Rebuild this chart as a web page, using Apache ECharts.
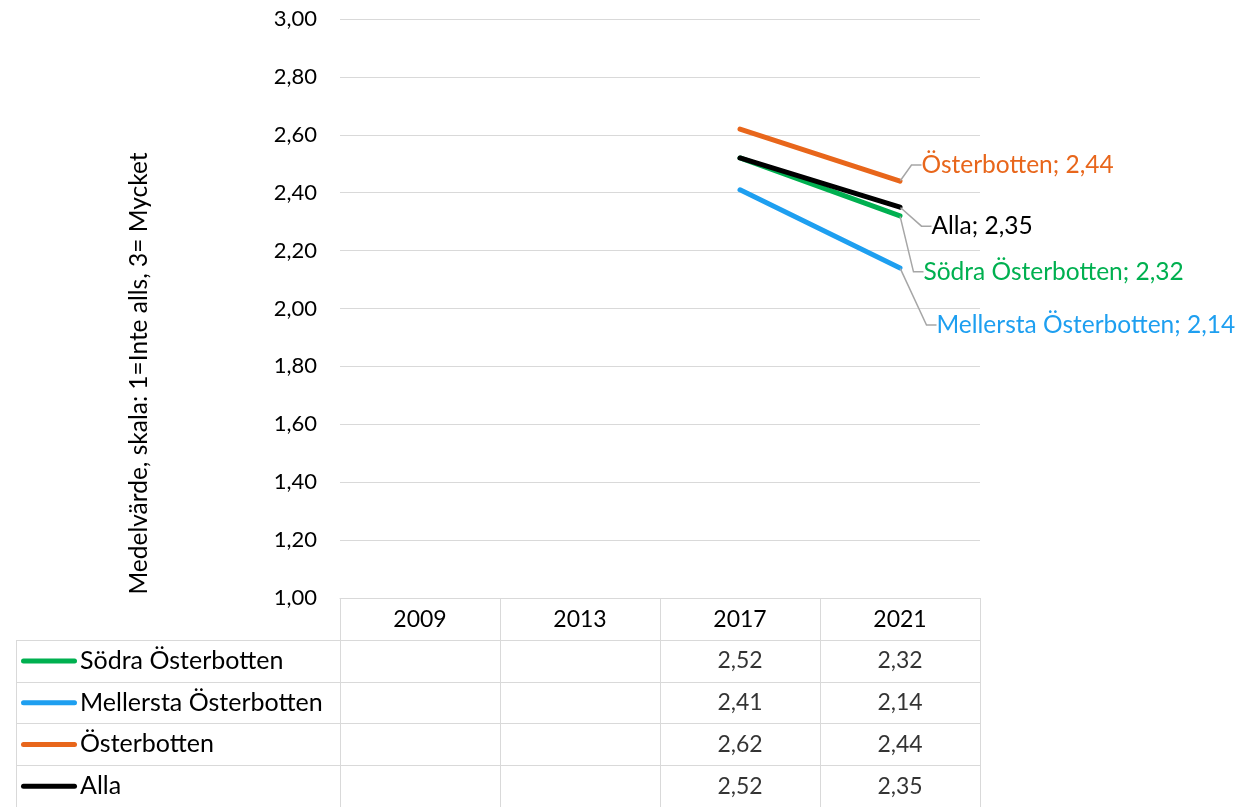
<!DOCTYPE html>
<html>
<head>
<meta charset="utf-8">
<script src="https://cdn.jsdelivr.net/npm/echarts@6/dist/echarts.min.js"></script>
<style>
  html, body { margin: 0; padding: 0; background: #fff; }
  #chart { width: 1256px; height: 807px; }
</style>
</head>
<body>
<div id="chart"></div>
<script>
// årtal och serier
var years = ['2009', '2013', '2017', '2021'];
var seriesNames = ['Södra Österbotten', 'Mellersta Österbotten', 'Österbotten', 'Alla'];
var sodra = [null, null, 2.52, 2.32];
var mellersta = [null, null, 2.41, 2.14];
var osterbotten = [null, null, 2.62, 2.44];
var alla = [null, null, 2.52, 2.35];
var colors = ['#00B050', '#1E9FF0', '#E8661B', '#000000'];

var allValues = [sodra, mellersta, osterbotten, alla];
// etiketternas förskjutning vid sista punkten
var labelShift = [[11, 56], [24, 57], [9, -16], [19, 19]];

var FONT = 'Lato';
var gridColor = '#d9d9d9';

function fmt(v) {
  return v.toFixed(2).replace('.', ',');
}

var chart = echarts.init(document.getElementById('chart'));

var series = [];
allValues.forEach(function (vals, s) {
  var last = vals.length - 1;
  series.push({
    name: seriesNames[s],
    type: 'line',
    xAxisIndex: 0,
    yAxisIndex: 0,
    data: vals.map(function (v, i) {
      return i === last ? { value: v, label: { show: true } } : v;
    }),
    symbol: 'circle',
    symbolSize: 1,
    showSymbol: true,
    lineStyle: { width: 5, color: colors[s], cap: 'round' },
    itemStyle: { color: colors[s] },
    label: {
      show: false,
      position: 'right',
      distance: 5,
      padding: [0, 0, 0, 7],
      fontFamily: FONT,
      fontSize: 24.5,
      color: colors[s],
      formatter: function (p) { return p.seriesName + '; ' + fmt(p.value); }
    },
    labelLayout: { dx: labelShift[s][0], dy: labelShift[s][1] },
    labelLine: { show: true, length2: 10, lineStyle: { color: '#a6a6a6', width: 1.5 } },
    emphasis: { disabled: true },
    z: 3 + s
  });
});

// tabellvärden
var tableData = [];
allValues.forEach(function (vals, s) {
  vals.forEach(function (v, i) {
    if (v != null) tableData.push([i, s, v]);
  });
});
series.push({
  type: 'scatter',
  xAxisIndex: 1,
  yAxisIndex: 1,
  symbolSize: 0,
  data: tableData,
  label: {
    show: true,
    position: 'inside',
    fontFamily: FONT,
    fontSize: 23,
    color: '#000',
    formatter: function (p) { return fmt(p.value[2]); }
  },
  emphasis: { disabled: true },
  silent: true
});

var rich = { name: { fontFamily: FONT, fontSize: 25, color: '#000', padding: [0, 0, 0, 3] } };
colors.forEach(function (c, s) {
  rich['i' + s] = { width: 56, height: 5, backgroundColor: c, borderRadius: 3 };
});

var option = {
  animation: false,
  backgroundColor: '#fff',
  textStyle: { fontFamily: FONT },
  grid: [
    { left: 340, top: 19, width: 640, height: 579 },
    { left: 340, top: 640, width: 640, height: 168 }
  ],
  xAxis: [{
    gridIndex: 0,
    type: 'category',
    data: years,
    boundaryGap: true,
    axisLine: { lineStyle: { color: gridColor, width: 1 } },
    axisTick: { show: true, length: 42, interval: 0, lineStyle: { color: gridColor } },
    axisLabel: { fontFamily: FONT, fontSize: 23, color: '#000', margin: 10, interval: 0 },
    splitLine: { show: false }
  }, {
    gridIndex: 1,
    type: 'category',
    data: years,
    position: 'top',
    boundaryGap: true,
    axisLine: { lineStyle: { color: gridColor } },
    axisTick: { show: false },
    axisLabel: { show: false },
    splitLine: { show: true, interval: 0, lineStyle: { color: gridColor } }
  }],
  yAxis: [{
    gridIndex: 0,
    type: 'value',
    min: 1,
    max: 3,
    interval: 0.2,
    name: 'Medelvärde, skala: 1=Inte alls, 3= Mycket',
    nameLocation: 'middle',
    nameRotate: 90,
    nameGap: 188,
    nameTextStyle: { fontFamily: FONT, fontSize: 24.5, color: '#000', padding: [0, 130, 0, 0] },
    axisLine: { show: false },
    axisTick: { show: false },
    axisLabel: {
      fontFamily: FONT,
      fontSize: 22,
      color: '#000',
      margin: 23,
      formatter: function (v) { return fmt(v); }
    },
    splitLine: { lineStyle: { color: gridColor, width: 1 } }
  }, {
    gridIndex: 1,
    type: 'category',
    data: seriesNames,
    inverse: true,
    axisLine: { lineStyle: { color: gridColor } },
    axisTick: { show: true, length: 324, interval: 0, lineStyle: { color: gridColor } },
    axisLabel: {
      align: 'left',
      margin: 319,
      interval: 0,
      formatter: function (v, i) { return '{i' + i + '|}{name|' + v + '}'; },
      rich: rich
    },
    splitLine: { show: true, interval: 0, lineStyle: { color: gridColor } }
  }],
  graphic: [{
    type: 'line',
    shape: { x1: 16.5, y1: 640, x2: 16.5, y2: 807 },
    style: { stroke: gridColor, lineWidth: 1 },
    silent: true
  }],
  series: series
};

chart.setOption(option);
</script>
</body>
</html>
